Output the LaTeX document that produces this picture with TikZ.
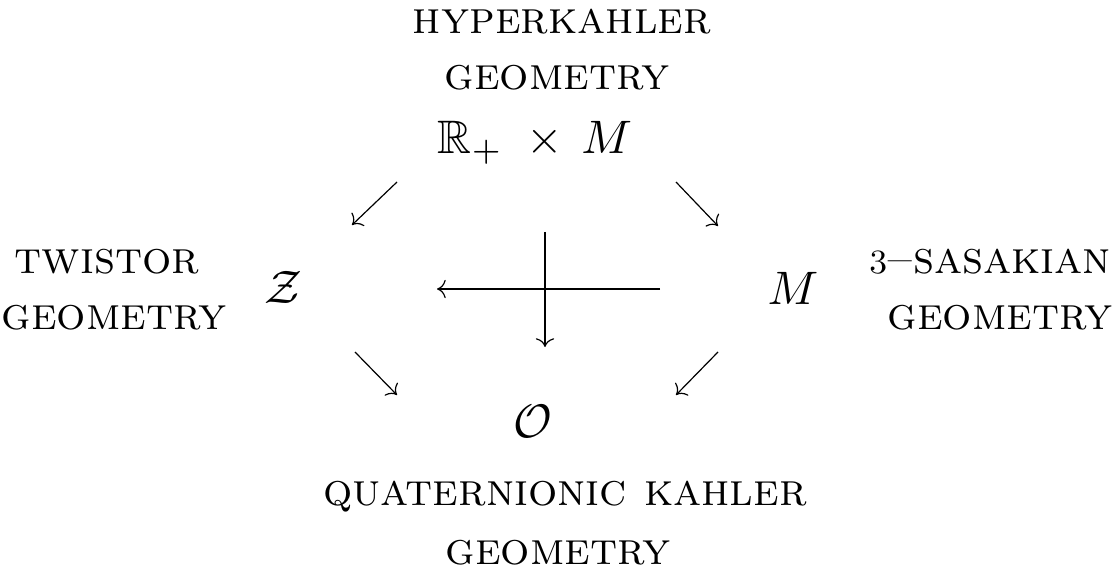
\documentclass[tikz,border=0pt]{standalone}
\usepackage{amsmath,amssymb}
\usepackage{tikz}
\usetikzlibrary{arrows.meta}
\newcommand{\spc}[1]{\scalebox{2.35}{$#1$}}

\begin{document}
\begin{tikzpicture}[
      x=0.5pt,y=-0.5pt,
      lbl/.style={font=\fontsize{23}{27}\selectfont\scshape,inner sep=0pt},
      space/.style={inner sep=0pt},
      arr/.style={-{Computer Modern Rightarrow[scale=1.5]},line width=0.6pt},
      bar/.style={line width=1.2pt},
    ]
    \useasboundingbox (0,0) rectangle (1119,577);

    % geometries
    \node[lbl] (hk1) at (562,22) {hyperkahler};
    \node[lbl] (hk2) at (557,78) {geometry};
    \node[lbl] (tw1) at (107,262) {twistor};
    \node[lbl] (tw2) at (114,318) {geometry};
    \node[lbl] (sa1) at (990,262) {{\fontsize{17}{20}\selectfont 3}--sasakian};
    \node[lbl] (sa2) at (1000,318) {geometry};
    \node[lbl] (qk1) at (565,497) {quaternionic kahler};
    \node[lbl] (qk2) at (558,553) {geometry};

    % spaces
    \node[space] (cone) at (535,143) {\spc{\mathbb{R}_+\;\times\, M}};
    \node[space] (twist) at (283,287) {\spc{\mathcal{Z}}};
    \node[space] (sasak) at (793,288) {\spc{M}};
    \node[space] (quat) at (533,421) {\spc{\mathcal{O}}};

    % diagonal arrows
    \coordinate (a1) at (397,182); \coordinate (b1) at (352,225);
    \coordinate (a2) at (676,182); \coordinate (b2) at (718,226);
    \coordinate (a3) at (355,352); \coordinate (b3) at (397,395);
    \coordinate (a4) at (718,352); \coordinate (b4) at (676,395);
    \draw[arr] (a1)--(b1);
    \draw[arr] (a2)--(b2);
    \draw[arr] (a3)--(b3);
    \draw[arr] (a4)--(b4);

    % the cross in the middle
    \coordinate (hr) at (660,289); \coordinate (hm) at (473,289);
    \coordinate (hl) at (437,289);
    \coordinate (vt) at (545,232); \coordinate (vm) at (545,318);
    \coordinate (vb) at (545,347);
    \draw[bar] (hr)--(hm);
    \draw[arr] (hm)--(hl);
    \draw[bar] (vt)--(vm);
    \draw[arr] (vm)--(vb);
  \end{tikzpicture}
\end{document}
